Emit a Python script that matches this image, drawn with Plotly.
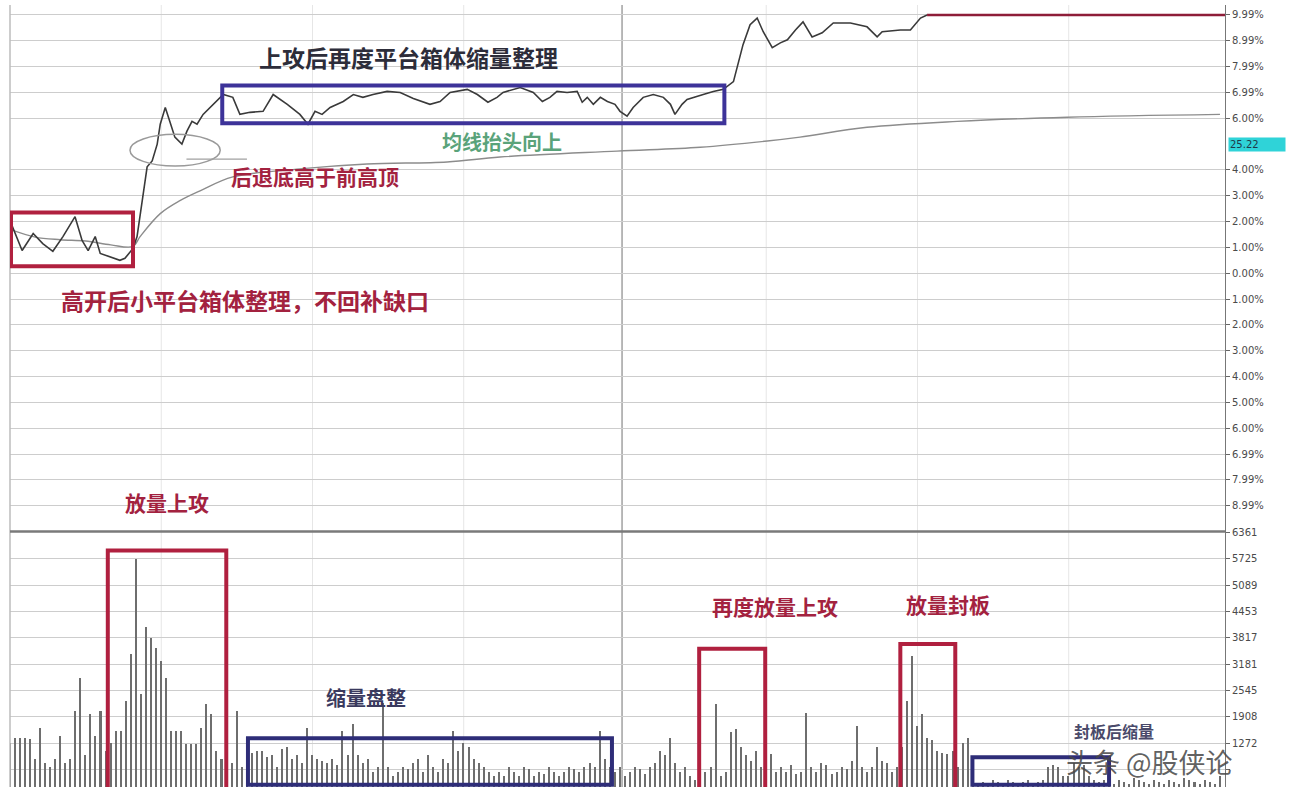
import plotly.graph_objects as go

# ---------------- data ----------------
# price line: (minute, % change)
price_points = [
    (0, 2.04), (2.4, 0.88), (4.6, 1.54), (6.5, 1.15), (8.5, 0.85), (10.5, 1.42),
    (12.9, 2.19), (14.3, 1.27), (15.5, 0.88), (16.9, 1.42), (17.9, 0.77), (19.8, 0.65),
    (21.8, 0.50), (22.8, 0.58), (24.4, 0.96), (25.2, 1.42), (26.2, 2.69), (27.2, 4.12),
    (28.2, 4.35), (29.2, 5.0), (29.8, 5.77), (30.8, 6.42), (31.7, 5.88), (32.7, 5.27),
    (34.1, 5.0), (35.1, 5.5), (36.1, 5.88), (37.1, 5.77), (38.3, 6.15), (40.3, 6.54),
    (42.3, 6.92), (44.2, 6.81), (45.6, 6.15), (47.6, 6.23), (50.2, 6.27), (52.2, 6.92),
    (55.0, 6.54), (57.5, 6.15), (59.1, 5.77), (60.5, 6.27), (61.9, 6.15), (63.5, 6.42),
    (66.1, 6.65), (68.1, 6.92), (70.0, 6.81), (72.0, 6.92), (74.8, 7.04), (77.4, 7.0),
    (80.0, 6.77), (83.3, 6.54), (85.3, 6.65), (87.3, 7.0), (90.7, 7.12), (92.7, 6.92),
    (94.8, 6.62), (96.6, 6.81), (97.8, 7.0), (101.2, 7.19), (103.8, 7.0), (105.6, 6.65),
    (107.1, 6.81), (108.5, 7.04), (110.5, 7.0), (112.5, 7.04), (113.5, 6.62), (114.5, 6.81),
    (115.7, 6.54), (117.1, 6.81), (118.5, 6.65), (120.0, 6.54), (121.0, 6.27), (122.4, 6.08),
    (123.6, 6.42), (125.6, 6.81), (127.6, 6.92), (129.6, 6.81), (131.0, 6.54), (131.9, 6.15),
    (133.3, 6.54), (134.3, 6.73), (135.5, 6.81), (137.5, 6.92), (139.5, 7.04), (141.5, 7.12),
    (143.5, 7.42), (145.4, 8.85), (146.8, 9.62), (148.2, 9.88), (149.4, 9.35), (151.2, 8.73),
    (152.8, 8.92), (154.2, 9.04), (155.8, 9.42), (157.3, 9.73), (159.1, 9.15), (161.1, 9.31),
    (163.3, 9.69), (166.7, 9.69), (170.0, 9.54), (172.0, 9.15), (173.0, 9.35), (176.6, 9.42),
    (178.6, 9.42), (180.6, 9.88), (181.9, 10.0),
]
limit_minutes = [181.9, 241]
limit_pct = [10.0, 10.0]

avg_points = [
    (0, 1.7), (5, 1.4), (10, 1.3), (15, 1.25), (20, 1.1), (24.4, 1.04), (25.8, 1.42),
    (29.8, 2.31), (33.7, 2.81), (37.7, 3.19), (44.2, 3.73), (57.5, 4.04), (70.8, 4.23),
    (86.7, 4.31), (97.2, 4.5), (120.4, 4.73), (136.9, 4.88), (150.2, 5.12), (156.7, 5.27),
    (170.0, 5.65), (187.9, 5.88), (209.7, 6.04), (240, 6.15),
]

volume = [
    1300, 1420, 1400, 1400, 1380, 900, 1650, 800, 700, 900,          # 0-9
    1460, 800, 900, 2060, 2860, 1000, 1990, 1450, 2060, 1100,        # 10-19
    1300, 1580, 1580, 2300, 3430, 5740, 2470, 4100, 3820, 3580,      # 20-29
    3260, 2860, 1580, 1580, 1580, 1270, 1270, 1270, 1650, 2230,      # 30-39
    1990, 1100, 900, 600, 800, 2060, 700, 1000, 1050, 1100,          # 40-49
    1100, 950, 1000, 700, 1150, 1200, 900, 1000, 800, 1650,          # 50-59
    1000, 900, 850, 800, 900, 750, 1584, 1000, 1750, 1000,           # 60-69
    800, 900, 600, 700, 2256, 700, 500, 600, 700, 650,               # 70-79
    800, 900, 600, 1000, 700, 600, 900, 800, 1584, 1100,             # 80-89
    1300, 1200, 900, 800, 700, 600, 500, 600, 500, 700,              # 90-99
    600, 500, 700, 650, 500, 600, 550, 700, 600, 500,                # 100-109
    600, 700, 650, 600, 700, 800, 700, 1584, 900, 700,               # 110-119
    600, 700, 500, 600, 700, 650, 550, 700, 800, 1100,               # 120-129
    1000, 1416, 800, 600, 700, 500, 400, 500, 600, 700,              # 130-139
    2232, 500, 600, 1550, 1630, 1180, 1000, 860, 1100, 700,          # 140-149
    800, 1030, 600, 700, 600, 750, 550, 600, 2016, 700,              # 150-159
    600, 800, 750, 550, 600, 700, 650, 860, 1700, 700,               # 160-169
    600, 700, 1200, 860, 800, 600, 700, 1200, 2300, 3380,            # 170-179
    1700, 2000, 1400, 1350, 1100, 1050, 1030, 1100,                  # 180-187
    700, 1300, 1400, 500, 300, 350, 300, 400, 350, 300, 400, 350,    # 188-199
    300, 350, 400, 300, 350, 400, 700, 750, 700, 500,                # 200-209
    500, 800, 700, 750, 500, 400, 350, 400, 450, 300,                # 210-219
    400, 350, 300, 450, 400, 350, 300, 400, 350, 300,                # 220-229
    400, 350, 300, 450, 400, 350, 300, 400, 350, 300, 500,           # 230-240
]
minutes = list(range(len(volume)))

pct_ticks = [10, 9, 8, 7, 6, 4, 3, 2, 1, 0, -1, -2, -3, -4, -5, -6, -7, -8, -9]
pct_labels = ["9.99%", "8.99%", "7.99%", "6.99%", "6.00%", "4.00%", "3.00%", "2.00%",
              "1.00%", "0.00%", "1.00%", "2.00%", "3.00%", "4.00%", "5.00%", "6.00%",
              "6.99%", "7.99%", "8.99%"]
vol_ticks = [636, 1272, 1908, 2545, 3181, 3817, 4453, 5089, 5725, 6361]
vol_labels = ["", "1272", "1908", "2545", "3181", "3817", "4453", "5089", "5725", "6361"]
last_price_label = "25.22"

# ---------------- figure ----------------
price_x = [p[0] for p in price_points]
price_y = [p[1] for p in price_points]
avg_x = [p[0] for p in avg_points]
avg_y = [p[1] for p in avg_points]

SPLIT = 0.3266
fig = go.Figure()
fig.add_trace(go.Bar(x=minutes, y=volume, xaxis="x", yaxis="y2", width=0.3,
                     marker=dict(color="#6e6e6e", line=dict(width=0)), showlegend=False))
fig.add_trace(go.Scatter(x=avg_x, y=avg_y, mode="lines", line=dict(color="#8c8c8c", width=1.4),
                         line_shape="spline", showlegend=False))
fig.add_trace(go.Scatter(x=price_x, y=price_y, mode="lines", line=dict(color="#3a3a3a", width=1.6),
                         showlegend=False))
fig.add_trace(go.Scatter(x=limit_minutes, y=limit_pct, mode="lines",
                         line=dict(color="#8e1d38", width=2.5), showlegend=False))

RED = "#b0203f"
BLUE = "#3d3399"
NAVY = "#2e2d78"
shapes = []
for m in [30, 60, 90, 150, 180, 210]:
    shapes.append(dict(type="line", xref="x", yref="paper", x0=m, x1=m, y0=0, y1=1,
                       line=dict(color="#e6e6e6", width=1), layer="below"))
shapes.append(dict(type="line", xref="x", yref="paper", x0=121.4, x1=121.4, y0=0, y1=1,
                   line=dict(color="#8a8a8a", width=1.2), layer="below"))
shapes.append(dict(type="line", xref="paper", yref="paper", x0=0, x1=0, y0=0, y1=1,
                   line=dict(color="#bdbdbd", width=1.5)))
shapes.append(dict(type="line", xref="paper", yref="paper", x0=0, x1=1.0, y0=SPLIT, y1=SPLIT,
                   line=dict(color="#7a7a7a", width=2.5)))
# price panel boxes
shapes.append(dict(type="rect", xref="x", yref="y", x0=0.2, x1=24.4, y0=0.27, y1=2.35,
                   line=dict(color=RED, width=4)))
shapes.append(dict(type="rect", xref="x", yref="y", x0=42.1, x1=141.7, y0=5.81, y1=7.27,
                   line=dict(color=BLUE, width=4)))
shapes.append(dict(type="circle", xref="x", yref="y", x0=23.8, x1=41.7, y0=4.15, y1=5.38,
                   line=dict(color="#9a9a9a", width=1.5)))
shapes.append(dict(type="line", xref="x", yref="y", x0=35, x1=47, y0=4.42, y1=4.42,
                   line=dict(color="#a0a0a0", width=1.2)))
# volume panel boxes
shapes.append(dict(type="rect", xref="x", yref="y2", x0=19.4, x1=42.9, y0=0, y1=5928,
                   line=dict(color=RED, width=4)))
shapes.append(dict(type="rect", xref="x", yref="y2", x0=47.2, x1=119.4, y0=270, y1=1392,
                   line=dict(color=NAVY, width=4)))
shapes.append(dict(type="rect", xref="x", yref="y2", x0=136.7, x1=149.8, y0=0, y1=3552,
                   line=dict(color=RED, width=4)))
shapes.append(dict(type="rect", xref="x", yref="y2", x0=176.6, x1=187.5, y0=0, y1=3672,
                   line=dict(color=RED, width=4)))
shapes.append(dict(type="rect", xref="x", yref="y2", x0=190.9, x1=218, y0=270, y1=936,
                   line=dict(color=NAVY, width=4)))

FONT = "Noto Sans CJK SC"
def note(text, x, y, yref, color, size=21):
    return dict(text="<b>%s</b>" % text, x=x, y=y, xref="x", yref=yref, showarrow=False,
                font=dict(family=FONT, size=size, color=color), xanchor="center", yanchor="middle")

TRED = "#a3223f"
annotations = [
    note("上攻后再度平台箱体缩量整理", 79.0, 8.38, "y", "#2d2d3a", 23),
    note("均线抬头向上", 97.6, 5.12, "y", "#5aa37a", 20),
    note("后退底高于前高顶", 60.5, 3.77, "y", TRED, 21),
    note("高开后小平台箱体整理，不回补缺口", 46.6, -1.04, "y", TRED, 23),
    note("放量上攻", 31.2, -8.85, "y", TRED, 21),
    note("缩量盘整", 70.7, 2376, "y2", "#3a3a5e", 20),
    note("再度放量上攻", 151.8, 4584, "y2", TRED, 21),
    note("放量封板", 186.1, 4632, "y2", TRED, 21),
    note("封板后缩量", 219.0, 1560, "y2", "#4a4a6a", 16),
    dict(text="头条 @股侠论", x=226.0, y=820, xref="x", yref="y2", showarrow=False,
         font=dict(family=FONT, size=27, color="rgba(70,70,70,0.85)"),
         xanchor="center", yanchor="middle"),
    dict(text=last_price_label, x=1.0, y=5.0, xref="paper", yref="y", showarrow=False,
         xanchor="left", yanchor="middle", xshift=3, bgcolor="#2fd3d8",
         font=dict(family="DejaVu Sans", size=10, color="#1f3a4a"), width=54, align="left"),
]

axis_font = dict(family="DejaVu Sans", size=10, color="#4a4a4a")
fig.update_layout(
    width=1291, height=787,
    margin=dict(l=10, r=66, t=0, b=0),
    paper_bgcolor="white", plot_bgcolor="white",
    bargap=0,
    xaxis=dict(range=[0, 241], showgrid=False, showticklabels=False, zeroline=False,
               showline=False, anchor="y2"),
    yaxis=dict(domain=[SPLIT, 1], range=[-10, 10.385], side="right", anchor="x",
               tickvals=pct_ticks, ticktext=pct_labels, tickfont=axis_font,
               showgrid=True, gridcolor="#cdcdcd", gridwidth=1, zeroline=False,
               ticks="outside", ticklen=4, tickcolor="#666", showline=True, linecolor="#777"),
    yaxis2=dict(domain=[0, SPLIT], range=[216, 6384], side="right", anchor="x",
                tickvals=vol_ticks, ticktext=vol_labels, tickfont=axis_font,
                showgrid=True, gridcolor="#cdcdcd", gridwidth=1, zeroline=False,
                ticks="outside", ticklen=4, tickcolor="#666", showline=True, linecolor="#777"),
    shapes=shapes,
    annotations=annotations,
    showlegend=False,
)

fig.write_html("out.html", config={"displayModeBar": False},
               post_script="document.body.style.margin='0';")
